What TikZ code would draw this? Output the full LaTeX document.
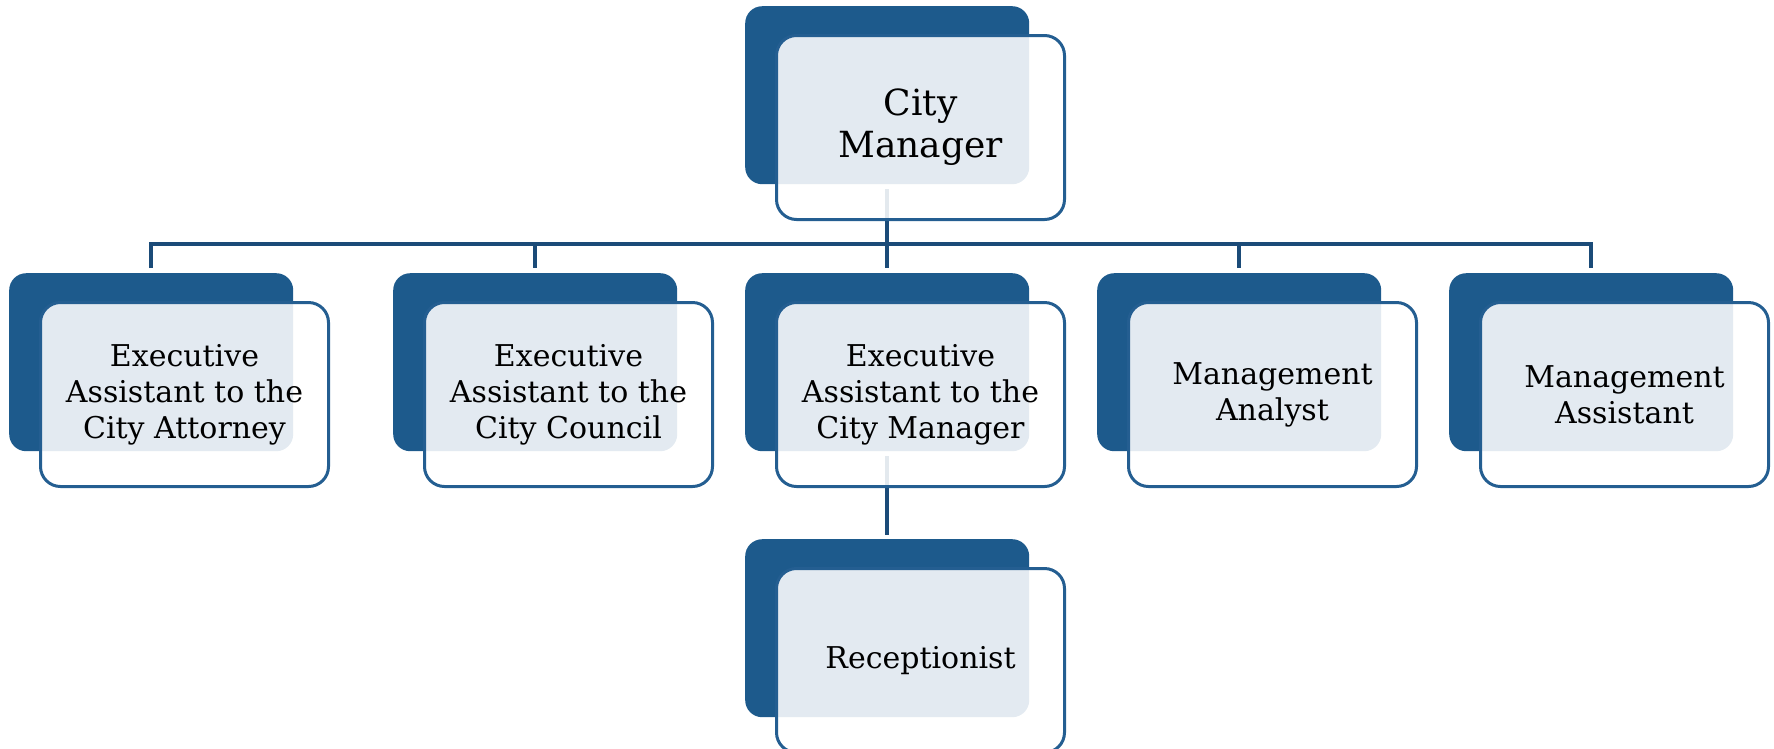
\documentclass[tikz,border=0pt]{standalone}
\usepackage{fontspec}
\setmainfont{DejaVu Serif}
\usetikzlibrary{backgrounds}
\definecolor{dk}{RGB}{29,90,140}
\definecolor{ol}{RGB}{36,94,145}
\definecolor{cn}{RGB}{27,75,120}
\begin{document}
\begin{tikzpicture}[x=1pt,y=-1pt,
  darkbox/.style={rectangle, rounded corners=17pt, fill=dk, minimum width=284pt, minimum height=178pt, inner sep=0pt, anchor=north west},
  outbox/.style={rectangle, rounded corners=20pt, draw=ol, line width=3pt, fill=white, fill opacity=0.88, text opacity=1, minimum width=288pt, minimum height=184pt, inner sep=0pt, align=center, anchor=north west, font=\fontsize{30}{36}\selectfont},
  bigtext/.style={font=\fontsize{36}{42}\selectfont},
  conn/.style={draw=cn, line width=3.5pt}]
\useasboundingbox (0,0) rectangle (1774,748);

% top
\node[darkbox] (d0) at (745,6) {};
\node[outbox, bigtext] (b0) at (775,34) {City\\Manager};

% second row
\node[darkbox] (d1) at (9,273) {};
\node[outbox] (b1) at (39,301) {Executive\\Assistant to the\\City Attorney};
\node[darkbox] (d2) at (393,273) {};
\node[outbox] (b2) at (423,301) {Executive\\Assistant to the\\City Council};
\node[darkbox] (d3) at (745,273) {};
\node[outbox] (b3) at (775,301) {Executive\\Assistant to the\\City Manager};
\node[darkbox] (d4) at (1097,273) {};
\node[outbox] (b4) at (1127,301) {Management\\Analyst};
\node[darkbox] (d5) at (1449,273) {};
\node[outbox] (b5) at (1479,301) {Management\\Assistant};

% third row
\node[darkbox] (d6) at (745,539) {};
\node[outbox] (b6) at (775,567) {Receptionist};

\begin{scope}[on background layer]
  \coordinate (bus) at (887,244);
  \draw[conn, shorten <=5pt] (d0.south) -- (d0.south |- bus);
  \draw[conn, shorten <=5pt, shorten >=5pt] (d1.north) -- (d1.north |- bus) -- (d5.north |- bus) -- (d5.north);
  \draw[conn, shorten >=5pt] (d2.north |- bus) -- (d2.north);
  \draw[conn, shorten >=5pt] (d3.north |- bus) -- (d3.north);
  \draw[conn, shorten >=5pt] (d4.north |- bus) -- (d4.north);
  \draw[conn, shorten <=5pt, shorten >=4pt] (d3.south) -- (d6.north);
\end{scope}
\end{tikzpicture}
\end{document}
